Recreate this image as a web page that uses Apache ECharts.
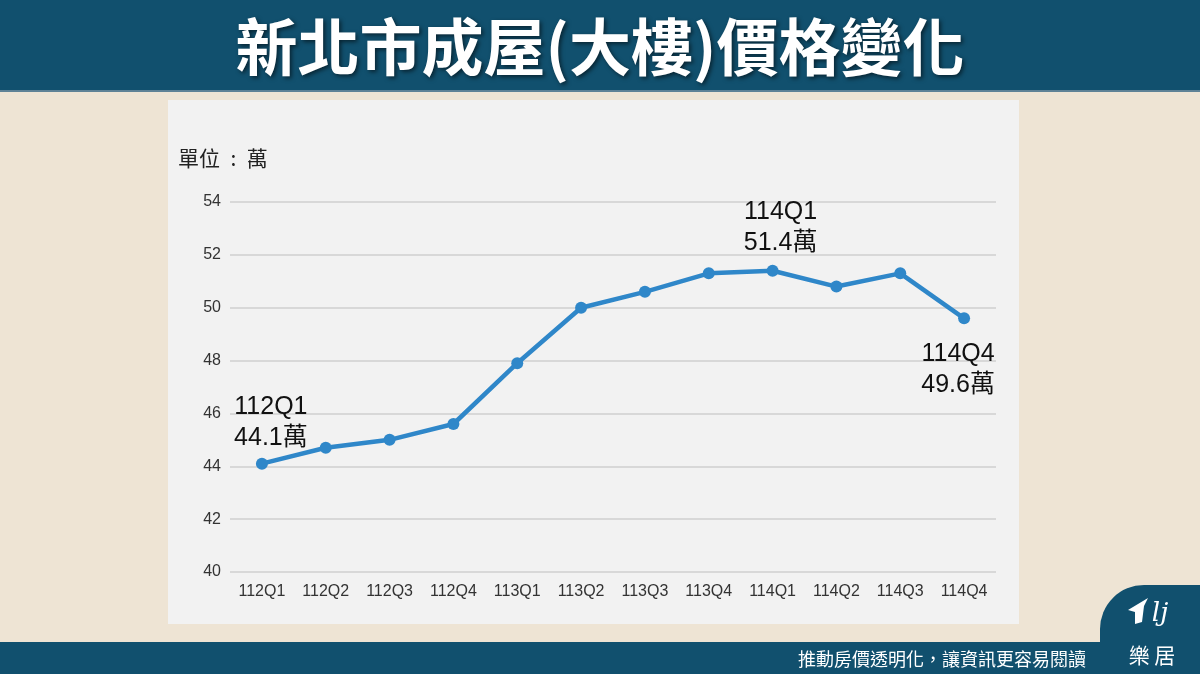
<!DOCTYPE html>
<html>
<head>
<meta charset="utf-8">
<script src="https://cdn.jsdelivr.net/npm/echarts@6/dist/echarts.min.js"></script>
<style>
  html, body { margin: 0; padding: 0; background: #EEE4D4; }
  #chart { width: 1200px; height: 674px; }
</style>
</head>
<body>
<div id="chart"></div>
<script>
const quarters = ['112Q1', '112Q2', '112Q3', '112Q4', '113Q1', '113Q2', '113Q3', '113Q4', '114Q1', '114Q2', '114Q3', '114Q4'];
const prices = [44.1, 44.7, 45.0, 45.6, 47.9, 50.0, 50.6, 51.3, 51.4, 50.8, 51.3, 49.6];
const yTicks = { min: 40, max: 54, interval: 2 };

const navy = '#11506E';
const lineBlue = '#2F87C9';
const cjk = '"Noto Sans CJK TC", "Noto Sans", sans-serif';
const latin = '"Liberation Sans", Arial, "Noto Sans CJK TC", sans-serif';

const chart = echarts.init(document.getElementById('chart'));

// labels only on first, peak and last points
const labelled = {
    0: { position: 'top', offset: [9, 1] },
    8: { position: 'top', offset: [8, -1] },
    11: { position: 'bottom', offset: [-6, 9] }
};

const seriesData = prices.map((v, i) => {
    const item = { value: v };
    if (labelled[i]) {
        item.label = {
            show: true,
            position: labelled[i].position,
            offset: labelled[i].offset,
            formatter: quarters[i] + '\n' + v.toFixed(1) + '萬'
        };
    }
    return item;
});

const option = {
    backgroundColor: '#EEE4D4',
    animation: false,
    graphic: [
        { type: 'rect', shape: { x: 0, y: 0, width: 1200, height: 90 }, style: { fill: navy } },
        { type: 'rect', shape: { x: 0, y: 90, width: 1200, height: 2 }, style: { fill: '#5E8296' } },
        { type: 'rect', shape: { x: 168, y: 100, width: 851, height: 524 }, style: { fill: '#F2F2F2' }, z: -1 },
        {
            type: 'text', x: 600, y: 47, z: 10,
            style: {
                text: '新北市成屋(大樓)價格變化', fill: '#FFFFFF',
                font: 'bold 62px ' + cjk, align: 'center', verticalAlign: 'middle',
                textShadowColor: 'rgba(0,0,0,0.55)', textShadowBlur: 4, textShadowOffsetX: 2, textShadowOffsetY: 2
            }
        },
        { type: 'rect', shape: { x: 0, y: 642, width: 1200, height: 32 }, style: { fill: navy } },
        { type: 'rect', shape: { x: 1100, y: 585, width: 120, height: 100, r: [44, 0, 0, 0] }, style: { fill: navy } },
        {
            type: 'text', x: 1086, y: 659,
            style: { text: '推動房價透明化，讓資訊更容易閱讀', fill: '#FFFFFF', font: '18px ' + cjk, align: 'right', verticalAlign: 'middle' }
        },
        {
            type: 'text', x: 1152, y: 655,
            style: { text: '樂 居', fill: '#FFFFFF', font: '21px ' + cjk, align: 'center', verticalAlign: 'middle' }
        },
        {
            type: 'polygon', z: 10,
            shape: { points: [[1128, 610], [1148, 598], [1144, 606], [1142, 622], [1135, 624], [1135, 612]] },
            style: { fill: '#FFFFFF' }
        },
        {
            type: 'text', x: 1160, y: 614,
            style: { text: 'lj', fill: '#FFFFFF', font: 'italic 26px "DejaVu Serif", serif', align: 'center', verticalAlign: 'middle' }
        },
        {
            type: 'text', x: 178, y: 158,
            style: { text: '單位\u2002:\u2002萬', fill: '#222222', font: '21px ' + cjk, verticalAlign: 'middle' }
        }
    ],
    grid: { left: 230, right: 204, top: 202, bottom: 102 },
    xAxis: {
        type: 'category',
        data: quarters,
        boundaryGap: true,
        axisLine: { show: false },
        axisTick: { show: false },
        axisLabel: { color: '#333333', fontSize: 16, fontFamily: latin, margin: 12 }
    },
    yAxis: {
        type: 'value',
        min: yTicks.min,
        max: yTicks.max,
        interval: yTicks.interval,
        axisLine: { show: false },
        axisTick: { show: false },
        axisLabel: { color: '#333333', fontSize: 16, fontFamily: latin, margin: 9 },
        splitLine: { lineStyle: { color: '#CFCFCF', width: 1.5 } }
    },
    series: [{
        type: 'line',
        data: seriesData,
        symbol: 'circle',
        symbolSize: 12,
        lineStyle: { color: lineBlue, width: 4.5 },
        itemStyle: { color: lineBlue },
        label: {
            show: false,
            color: '#111111',
            fontSize: 25,
            lineHeight: 31,
            fontFamily: latin
        }
    }]
};

chart.setOption(option);
</script>
</body>
</html>
